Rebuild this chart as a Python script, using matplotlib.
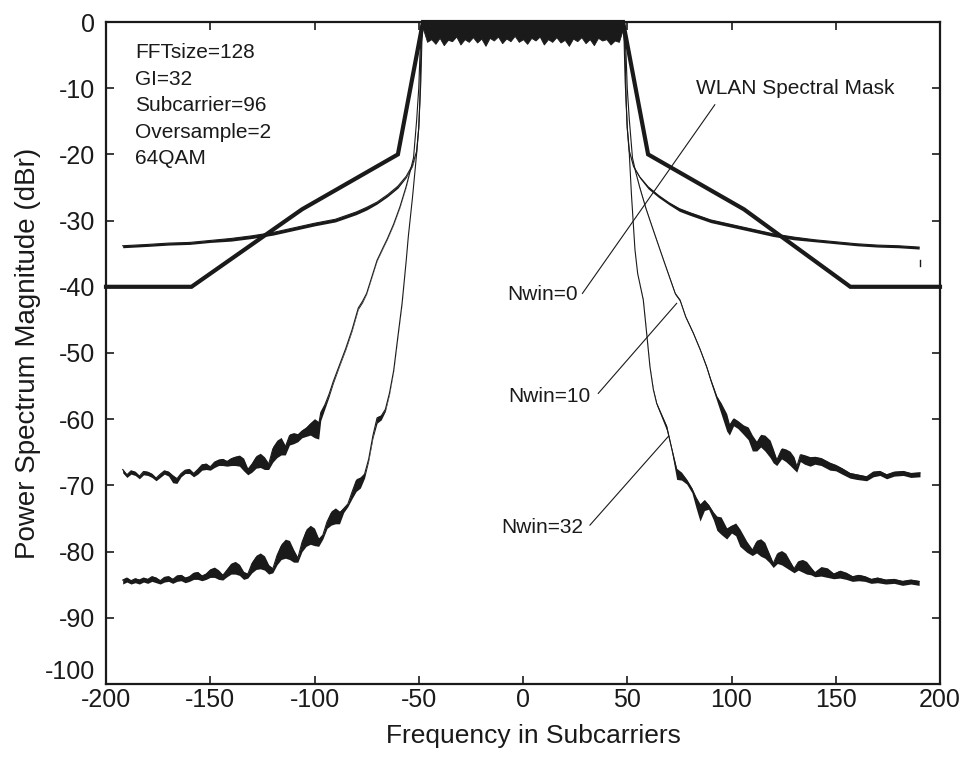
import matplotlib
matplotlib.use("Agg")
import matplotlib.pyplot as plt
import numpy as np

plt.rcParams['axes.unicode_minus'] = False

# ---------------- data ----------------
x_ticks = [-200, -150, -100, -50, 0, 50, 100, 150, 200]
y_ticks = [0, -10, -20, -30, -40, -50, -60, -70, -80, -90, -100]

mask_x = [-200, -159, -106, -60, -48, 48, 60, 106, 157, 200]
mask_db = [-40, -40, -28.3, -20, 0, 0, -20, -28.3, -40, -40]

# in-band region (all three curves overlap): lower envelope of the noise
band_x = [-48, -46, -44, -42, -40, -38, -36, -34, -32, -30, -28, -26, -24, -22, -20,
          -18, -16, -14, -12, -10, -8, -6, -4, -2, 0, 2, 4, 6, 8, 10, 12, 14, 16, 18,
          20, 22, 24, 26, 28, 30, 32, 34, 36, 38, 40, 42, 44, 46, 48]
band_low = [-1.0, -3.0, -2.6, -3.3, -2.4, -3.5, -2.7, -2.9, -2.2, -3.4, -2.6, -3.0, -2.3,
            -3.1, -2.5, -3.6, -2.4, -2.8, -2.2, -3.2, -2.5, -2.9, -2.1, -3.0, -2.6, -3.3,
            -2.4, -2.8, -2.2, -3.4, -2.6, -3.0, -2.3, -3.1, -2.7, -3.6, -2.5, -2.9, -2.3,
            -3.2, -2.6, -3.5, -2.4, -2.8, -2.6, -3.4, -2.8, -3.0, -1.0]

# (frequency, dBr, ripple depth)
nwin0_left = [(-192, -33.8, 0.3), (-180, -33.6, 0.3), (-170, -33.4, 0.3), (-160, -33.3, 0.3),
              (-150, -33.0, 0.3), (-140, -32.7, 0.4), (-130, -32.3, 0.4), (-120, -31.8, 0.4),
              (-110, -31.1, 0.4), (-100, -30.4, 0.4), (-90, -29.8, 0.4), (-80, -28.7, 0.4),
              (-75, -28.0, 0.4), (-70, -27.2, 0.3), (-65, -26.1, 0.3), (-60, -24.8, 0.3),
              (-56, -23.3, 0.2), (-53, -21.6, 0.2), (-51, -19.5, 0.1), (-50, -16.0, 0.0),
              (-49, -9.0, 0.0), (-48.5, -3.0, 0.0), (-48, -1.0, 0.0)]
nwin0_right = [(48, -1.0, 0.0), (48.5, -3.0, 0.0), (49, -9.0, 0.0), (50, -16.0, 0.0),
               (51, -19.5, 0.1), (53, -21.8, 0.2), (56, -23.4, 0.2), (60, -24.9, 0.3),
               (65, -26.2, 0.3), (70, -27.3, 0.3), (75, -28.2, 0.4), (80, -28.8, 0.4),
               (90, -29.9, 0.4), (100, -30.6, 0.4), (110, -31.3, 0.4), (120, -32.0, 0.4),
               (130, -32.5, 0.4), (140, -32.9, 0.3), (150, -33.2, 0.3), (160, -33.5, 0.3),
               (170, -33.7, 0.3), (180, -33.8, 0.3), (190, -34.0, 0.3)]

nwin10_left = [(-192, -67.6, 0.5), (-190, -68.4, 0.4), (-188, -67.8, 0.5), (-186, -68.0, 0.5),
               (-184, -68.6, 0.4), (-182, -67.9, 0.5), (-180, -68.0, 0.5), (-178, -68.3, 0.5),
               (-176, -68.9, 0.4), (-174, -68.3, 0.5), (-172, -67.8, 0.5), (-170, -68.0, 0.6),
               (-168, -68.6, 1.0), (-166, -69.0, 0.7), (-164, -68.2, 0.5), (-162, -67.7, 0.5),
               (-160, -67.6, 0.6), (-158, -68.2, 0.5), (-156, -67.6, 0.7), (-154, -66.9, 0.8),
               (-152, -66.8, 0.8), (-150, -67.2, 0.5), (-148, -66.5, 0.8), (-146, -66.2, 0.8),
               (-144, -66.1, 0.9), (-142, -66.4, 0.7), (-140, -66.0, 1.0), (-138, -65.8, 1.2),
               (-136, -65.7, 1.4), (-134, -66.2, 1.6), (-132, -67.6, 0.8), (-130, -66.8, 1.2),
               (-128, -65.8, 1.6), (-126, -65.5, 1.8), (-124, -66.0, 1.6), (-122, -66.8, 0.8),
               (-120, -64.5, 2.0), (-118, -63.6, 2.2), (-116, -63.2, 2.2), (-114, -64.2, 1.2),
               (-112, -62.5, 1.4), (-110, -62.3, 1.4), (-108, -62.4, 1.0), (-106, -61.8, 1.0),
               (-104, -61.4, 1.2), (-102, -60.8, 1.6), (-100, -60.4, 2.4), (-98, -60.8, 2.2),
               (-97, -59.0, 1.2), (-95, -57.8, 0.6), (-93, -56.2, 0.4), (-91, -54.3, 0.3),
               (-88, -51.8, 0.2), (-85, -49.3, 0.2), (-82, -46.5, 0.2), (-79, -43.2, 0.2),
               (-77, -42.2, 0.2), (-75, -41.0, 0.1), (-72, -38.0, 0.1), (-70, -36.0, 0.1),
               (-67, -34.0, 0.1), (-65, -32.7, 0.1), (-62, -30.5, 0.1), (-59, -27.9, 0.1),
               (-56, -24.8, 0.1), (-54, -22.4, 0.0), (-52.5, -20.5, 0.0), (-51, -14.8, 0.0),
               (-50, -10.0, 0.0), (-49.4, -4.7, 0.0), (-48.5, -1.0, 0.0)]
nwin10_right = [(48.5, -1.0, 0.0), (49.4, -4.7, 0.0), (50, -10.0, 0.0), (51, -14.8, 0.0),
                (52.5, -20.5, 0.0), (54, -22.6, 0.0), (56, -25.0, 0.1), (59, -28.2, 0.1),
                (62, -31.0, 0.1), (65.7, -34.4, 0.1), (68, -36.5, 0.1), (71, -39.2, 0.2),
                (73, -41.0, 0.2), (75.3, -42.0, 0.2), (78, -44.5, 0.2), (81.7, -47.0, 0.2),
                (85, -49.5, 0.2), (88.1, -52.1, 0.3), (90, -54.0, 0.4), (92.9, -56.6, 0.6),
                (95, -57.8, 1.4), (97.7, -59.6, 2.2), (99, -61.0, 1.4), (101, -60.0, 1.0),
                (103, -60.4, 1.0), (105.7, -61.1, 1.2), (108, -61.5, 1.6), (110, -62.8, 2.0),
                (112.1, -63.6, 1.2), (114, -62.6, 1.6), (116, -62.8, 2.0), (118.5, -63.6, 2.2),
                (120, -64.8, 1.8), (121.7, -66.2, 0.8), (124, -64.6, 1.4), (126, -64.8, 1.6),
                (128.1, -65.2, 1.8), (130, -66.0, 1.6), (131.3, -67.2, 0.8), (133, -65.4, 1.0),
                (135, -65.6, 1.2), (137.7, -65.9, 1.2), (140, -65.8, 1.0), (143, -66.0, 1.0),
                (147.2, -66.7, 1.0), (150, -67.0, 0.8), (153, -67.5, 0.8), (156.8, -68.2, 0.7),
                (160, -68.4, 0.7), (164.8, -68.7, 0.6), (168, -68.0, 0.7), (171.2, -67.9, 0.6),
                (174.4, -68.4, 0.6), (178, -68.0, 0.6), (182.4, -67.9, 0.6), (186, -68.2, 0.6),
                (190.4, -68.1, 0.6)]

nwin32_left = [(-192, -84.3, 0.6), (-190, -84.0, 0.6), (-188, -84.4, 0.5), (-186, -84.1, 0.6),
               (-184, -84.3, 0.6), (-182, -84.0, 0.6), (-180, -84.2, 0.6), (-178, -83.8, 0.7),
               (-176, -84.0, 0.7), (-174, -84.4, 0.5), (-172, -83.9, 0.7), (-170, -83.8, 0.7),
               (-168, -84.2, 0.6), (-166, -83.7, 0.8), (-164, -83.6, 0.8), (-162, -84.0, 0.7),
               (-160, -83.8, 0.7), (-158, -83.3, 0.9), (-156, -83.2, 1.0), (-154, -83.7, 0.7),
               (-152, -83.4, 0.8), (-150, -82.8, 1.1), (-148, -82.6, 1.3), (-146, -83.0, 1.2),
               (-144, -83.6, 0.7), (-142, -82.8, 1.0), (-140, -82.0, 1.4), (-138, -81.8, 1.6),
               (-136, -82.2, 1.4), (-134, -83.2, 1.0), (-132, -83.4, 0.6), (-130, -81.8, 1.4),
               (-128, -80.9, 1.8), (-126, -80.6, 2.0), (-124, -81.0, 1.8), (-122, -82.2, 1.2),
               (-120, -82.6, 0.6), (-118, -80.6, 1.4), (-116, -79.2, 2.0), (-114, -78.6, 2.4),
               (-112, -78.8, 2.4), (-110, -80.0, 1.6), (-108, -81.0, 0.6), (-106, -78.6, 1.4),
               (-104, -77.0, 2.2), (-102, -76.5, 2.4), (-100, -76.9, 2.2), (-98, -78.2, 1.0),
               (-96, -77.5, 0.6), (-94, -75.5, 1.0), (-92, -74.2, 1.8), (-90, -73.8, 2.0),
               (-88, -74.2, 1.6), (-86, -73.5, 0.6), (-84, -72.8, 0.4), (-82, -71.0, 1.0),
               (-80, -69.3, 1.6), (-78, -69.0, 1.4), (-76, -68.3, 0.6), (-74, -66.0, 0.3),
               (-72, -62.5, 0.4), (-70, -59.8, 0.8), (-68, -59.5, 0.6), (-66, -58.5, 0.3),
               (-64, -56.0, 0.2), (-62, -52.6, 0.1), (-60, -47.5, 0.1), (-58, -42.5, 0.1),
               (-56, -36.0, 0.0), (-55, -32.4, 0.0), (-53, -26.5, 0.0), (-51.5, -21.5, 0.0),
               (-51, -19.8, 0.0), (-50, -16.0, 0.0), (-49.5, -12.0, 0.0), (-49, -5.0, 0.0),
               (-48.5, -1.5, 0.0)]
nwin32_right = [(48.5, -1.5, 0.0), (49, -5.0, 0.0), (49.5, -12.0, 0.0), (50, -16.0, 0.0),
                (51, -20.0, 0.0), (52, -26.0, 0.0), (53.7, -34.4, 0.0), (55, -38.0, 0.0),
                (57.7, -42.0, 0.1), (59.3, -47.0, 0.1), (60.9, -52.1, 0.1), (62.5, -55.5, 0.2),
                (64.1, -57.6, 0.3), (66, -59.0, 0.4), (68.9, -61.1, 0.6), (71, -64.0, 0.4),
                (73.7, -67.7, 1.4), (76, -68.2, 1.0), (78.5, -69.2, 0.6), (81, -70.5, 0.6),
                (83, -72.0, 1.4), (84.9, -73.2, 2.2), (87, -72.4, 1.4), (89, -73.0, 0.6),
                (91.3, -74.2, 1.0), (93, -75.0, 1.8), (95, -75.2, 2.2), (97.7, -76.7, 1.4),
                (100, -76.2, 1.0), (102, -76.0, 1.6), (104, -77.0, 2.2), (107.3, -78.7, 1.4),
                (110, -79.8, 0.8), (112, -78.6, 1.6), (114, -78.5, 2.2), (116, -79.0, 2.0),
                (118, -80.4, 1.2), (120, -81.8, 0.6), (122, -80.4, 1.4), (124, -80.2, 1.8),
                (126, -80.6, 1.8), (128, -81.6, 1.2), (130, -82.6, 0.6), (132, -81.6, 1.2),
                (134, -81.5, 1.6), (136, -81.8, 1.6), (138, -82.5, 1.0), (140, -83.2, 0.6),
                (143, -82.5, 1.2), (146, -82.7, 1.2), (149, -83.4, 0.7), (152, -83.0, 1.0),
                (155, -83.3, 0.9), (158, -83.8, 0.7), (161, -83.6, 0.8), (164, -83.8, 0.7),
                (167, -84.2, 0.6), (170, -84.0, 0.7), (174, -84.3, 0.6), (178, -84.2, 0.6),
                (182, -84.5, 0.6), (186, -84.3, 0.6), (190, -84.5, 0.6)]

info_lines = ["FFTsize=128", "GI=32", "Subcarrier=96", "Oversample=2", "64QAM"]

labels = ["Nwin=0", "Nwin=10", "Nwin=32"]
label_pos = [(9.4, -41.2), (12.5, -56.6), (9.4, -76.4)]
leader_from = [(28.5, -41.0), (36.1, -56.1), (32.1, -76.0)]
leader_to = [(92.0, -12.5), (73.7, -42.5), (69.7, -62.6)]
mask_label = "WLAN Spectral Mask"
mask_label_pos = (130.5, -10.0)
glitch_x = [190.4, 190.4]
glitch_db = [-35.9, -36.9]

# ---------------- figure ----------------
TXT = ['Liberation Sans', 'DejaVu Sans']
INK = '#1a1a1a'

fig = plt.figure(figsize=(9.71, 7.6), dpi=100)
ax = fig.add_axes([106 / 971, 1 - 684 / 760, (940 - 106) / 971, (684 - 22) / 760])


def draw_curve(data):
    a = np.array(data, dtype=float)
    xs, ys, fz = a[:, 0], a[:, 1], a[:, 2]
    ax.fill_between(xs, ys - fz, ys + 0.2 * fz, color=INK, lw=0, zorder=3)
    ax.plot(xs, ys, color=INK, lw=0.8, zorder=4)


for d in [nwin0_left, nwin0_right, nwin10_left, nwin10_right, nwin32_left, nwin32_right]:
    draw_curve(d)

ax.fill_between(band_x, band_low, 0, color=INK, lw=0.6, zorder=4)
ax.plot(mask_x, mask_db, color=INK, lw=3.0, zorder=5, solid_joinstyle='miter',
        clip_on=False)
ax.plot(glitch_x, glitch_db, color=INK, lw=1.0, zorder=4)

for i, line in enumerate(info_lines):
    ax.annotate(line, xy=(-186.1, -4.6), xytext=(0, -26.6 * i * 72 / 100),
                textcoords='offset points', ha='left', va='center', fontsize=15,
                family=TXT, color=INK)

for lab, p, a, b in zip(labels, label_pos, leader_from, leader_to):
    ax.text(p[0], p[1], lab, ha='center', va='center', fontsize=15, family=TXT,
            color=INK, zorder=6)
    ax.plot([a[0], b[0]], [a[1], b[1]], color=INK, lw=0.8, zorder=6)
ax.text(mask_label_pos[0], mask_label_pos[1], mask_label, ha='center', va='center',
        fontsize=15, family=TXT, color=INK)

ax.set_xlim(-200, 200)
ax.set_ylim(-100, 0)
ax.set_xticks(x_ticks)
ax.set_yticks(y_ticks)
ax.set_xticklabels([str(v) for v in x_ticks], family=TXT, fontsize=18)
ax.set_yticklabels([str(v) for v in y_ticks], family=TXT, fontsize=18)
ax.tick_params(direction='in', length=6, width=1.2, top=True, right=True, colors=INK)
ax.tick_params(axis='x', pad=3)
ax.tick_params(axis='y', pad=8)
for s in ax.spines.values():
    s.set_linewidth(1.6)
    s.set_color(INK)

# the lowest y label sits just above the bottom axis line, as in the reference
for tk in ax.yaxis.get_major_ticks():
    if tk.label1.get_text() == "-100":
        tk.label1.set_va('bottom')

ax.set_xlabel("Frequency in Subcarriers", family=TXT, fontsize=19, color=INK)
ax.xaxis.label.set_va('center')
ax.xaxis.set_label_coords((533 - 106) / 834, (684 - 736) / 662)
ax.set_ylabel("Power Spectrum Magnitude (dBr)", family=TXT, fontsize=20, color=INK)
ax.yaxis.label.set_va('center')
ax.yaxis.set_label_coords((28 - 106) / 834, 0.5)

fig.savefig("out.png", dpi=100)
